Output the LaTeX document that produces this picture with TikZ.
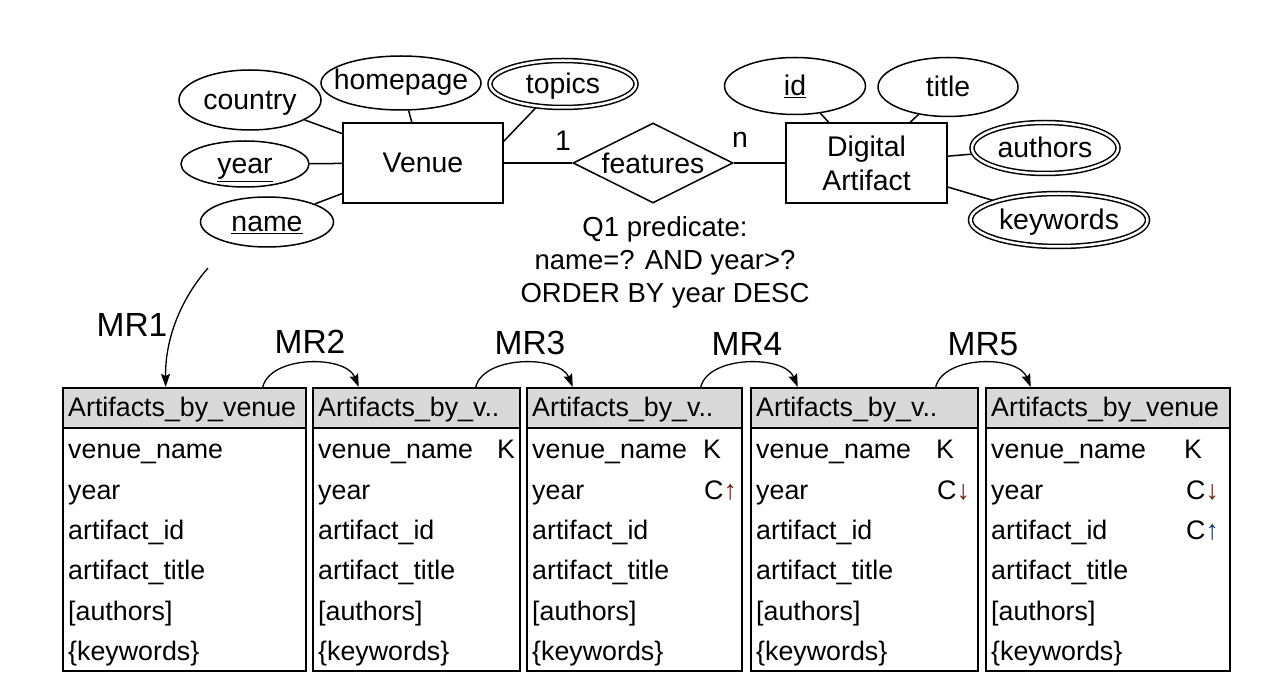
\documentclass[tikz,border=0pt]{standalone}
\usepackage{fontspec}
\setmainfont{Liberation Sans}
\usetikzlibrary{shapes.geometric,arrows.meta,calc,backgrounds}
\definecolor{hdrgray}{HTML}{D9D9D9}
\definecolor{arrred}{HTML}{6A1A0C}
\definecolor{arrblue}{HTML}{1A3370}
\newcommand{\erfont}{\fontsize{28.4}{34}\selectfont}
\newcommand{\tbfont}{\fontsize{26.8}{32}\selectfont}
\newcommand{\mrfont}{\fontsize{33.5}{40}\selectfont}
\newcommand{\qfont}{\fontsize{27.5}{33}\selectfont}
\newcommand{\zb}[1]{\makebox[0pt]{#1}}
\begin{document}
\begin{tikzpicture}[x=1pt,y=-1pt,
  ln/.style={line width=1.5pt},
  attr/.style={ellipse,draw,ln,inner sep=0pt,font=\erfont,text height=23pt,text depth=3pt},
  mattr/.style={attr,double,double distance=2.5pt},
  entity/.style={rectangle,draw,ln,inner sep=0pt,minimum width=160pt,minimum height=80pt,font=\erfont,align=center},
  rel/.style={diamond,draw,ln,inner sep=0pt,minimum width=160pt,minimum height=80pt,font=\erfont},
  hdr/.style={rectangle,draw,ln,fill=hdrgray,anchor=north west,minimum height=40pt,inner sep=0pt},
  body/.style={rectangle,draw,ln,anchor=north west,minimum height=243pt,inner sep=0pt},
  cell/.style={anchor=mid west,inner sep=0pt,font=\tbfont},
  mr/.style={font=\mrfont,inner sep=0pt},
  mrarrow/.style={line width=1.3pt,-{Stealth[length=13pt,width=9pt,inset=2pt]}}
]
\useasboundingbox (0,0) rectangle (1284,700);

% ER diagram
\node[entity] (venue) at (423,163) {Venue};
\node[entity,minimum width=161pt] (da) at (866.5,163) {Digital\\Artifact};
\node[rel] (feat) at (653,163) {\zb{features}};

\node[attr,minimum width=142pt,minimum height=60pt] (country) at (250,100) {\zb{country}};
\node[attr,minimum width=160pt,minimum height=54pt,text height=20pt,text depth=6pt] (homepage) at (401,83) {\zb{homepage}};
\node[mattr,minimum width=146pt,minimum height=47pt] (topics) at (563,84) {\zb{topics}};
\node[attr,minimum width=128pt,minimum height=46pt] (year) at (245,164) {\zb{\underline{year}}};
\node[attr,minimum width=133pt,minimum height=50pt] (name) at (267,222) {\zb{\underline{name}}};

\node[attr,minimum width=141pt,minimum height=57pt] (id) at (795,86) {\zb{\underline{id}}};
\node[attr,minimum width=140pt,minimum height=59pt] (title) at (948,87) {\zb{title}};
\node[mattr,minimum width=146pt,minimum height=51pt] (authors) at (1045,148) {\zb{authors}};
\node[mattr,minimum width=177pt,minimum height=53pt] (keywords) at (1059,220) {\zb{keywords}};

\node[font=\erfont,inner sep=0pt] (one) at (563,141) {1};
\node[font=\erfont,inner sep=0pt] (enn) at (740,140) {n};

\node[font=\qfont,align=center,inner sep=0pt] (q1) at (665,262) {Q1 predicate:\\name=? AND year>?\\ORDER BY year DESC};

\begin{scope}[on background layer]
  \fill[white] (0,0) rectangle (1284,700);
  \draw[ln] (country) -- (venue);
  \draw[ln] (homepage) -- (venue);
  \draw[ln] (topics.221) -- ([yshift=-19pt]venue.north east);
  \draw[ln] (year) -- (venue);
  \draw[ln] (name) -- (venue);
  \draw[ln] (venue) -- (feat);
  \draw[ln] (feat) -- (da);
  \draw[ln] (id) -- (da);
  \draw[ln] (title) -- (da);
  \draw[ln] (authors) -- (da);
  \draw[ln] (keywords) -- (da);
\end{scope}

% Tables
\foreach \i/\l/\r/\h in {1/62/305/{Artifacts\_by\_venue},2/312/519/{Artifacts\_by\_v..},3/526/741/{Artifacts\_by\_v..},4/750/977/{Artifacts\_by\_v..},5/985/1229/{Artifacts\_by\_venue}}{
  \node[hdr,minimum width={(\r-\l)*1pt}] (h\i) at (\l,387) {};
  \node[body,minimum width={(\r-\l)*1pt}] (t\i) at (\l,427) {};
  \node[cell] (ht\i) at ({\l+6},414) {\h};
  \foreach \j/\rowtxt in {0/venue\_name,1/year,2/artifact\_id,3/artifact\_title,4/{[authors]},5/{\{keywords\}}}{
    \node[cell] (r\i-\j) at ({\l+6},{456+40.4*\j}) {\rowtxt};
  }
}
\node[cell] (k2) at (497,456) {K};
\node[cell] (k3) at (703,456) {K};
\node[cell] (c3) at (704,496.4) {C\textcolor{arrred}{↑}};
\node[cell] (k4) at (936,456) {K};
\node[cell] (c4) at (937,496.4) {C\textcolor{arrred}{↓}};
\node[cell] (k5) at (1184,456) {K};
\node[cell] (c5a) at (1186,496.4) {C\textcolor{arrred}{↓}};
\node[cell] (c5b) at (1186,536.8) {C\textcolor{arrblue}{↑}};

% MR arrows
\coordinate (mr1s) at (208,268);
\node[mr] (mr1) at (132,325) {MR1};
\node[mr] (mr2) at (310,342) {MR2};
\node[mr] (mr3) at (530,343) {MR3};
\node[mr] (mr4) at (747,344) {MR4};
\node[mr] (mr5) at (983,344) {MR5};
\draw[mrarrow] (mr1s) .. controls (180,300) and (165,340) .. ([xshift=-18.5pt]h1.north);
\draw[mrarrow] ([xshift=78.5pt]h1.north) .. controls +(8,-32) and +(-13,-32) .. ([xshift=-57.5pt]h2.north);
\draw[mrarrow] ([xshift=59.5pt]h2.north) .. controls +(8,-32) and +(-13,-32) .. ([xshift=-61.5pt]h3.north);
\draw[mrarrow] ([xshift=66.5pt]h3.north) .. controls +(8,-32) and +(-13,-32) .. ([xshift=-66.5pt]h4.north);
\draw[mrarrow] ([xshift=71.5pt]h4.north) .. controls +(8,-32) and +(-13,-32) .. ([xshift=-77pt]h5.north);
\end{tikzpicture}
\end{document}
